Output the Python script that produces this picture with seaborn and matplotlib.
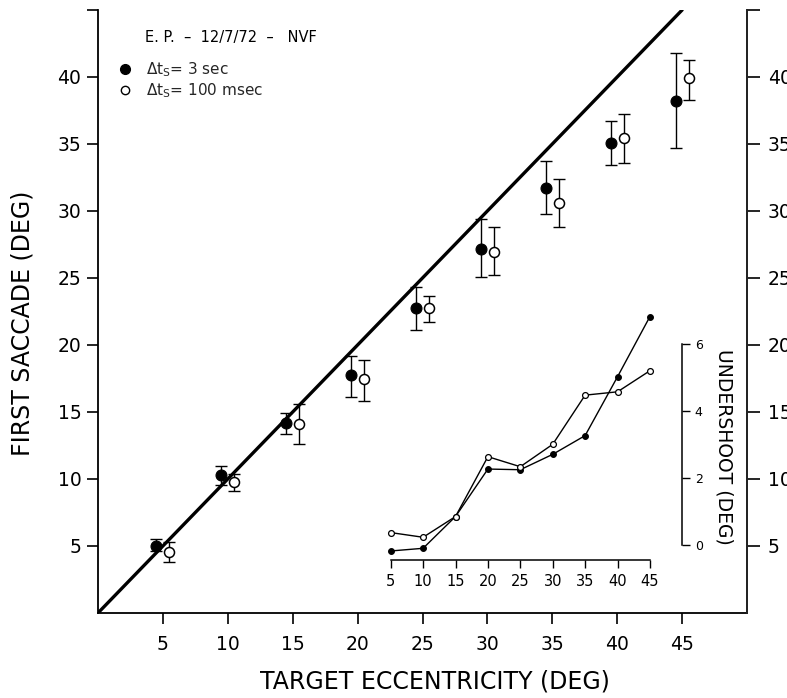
import numpy as np
import pandas as pd
import matplotlib
matplotlib.use("Agg")
import matplotlib.pyplot as plt
from matplotlib.lines import Line2D
import seaborn as sns

# ---------------- data ----------------
targets = [5, 10, 15, 20, 25, 30, 35, 40, 45]

sac_3s = [5.02, 10.3, 14.15, 17.76, 22.74, 27.2, 31.7, 35.1, 38.2]
sac_3s_lo = [4.6, 9.53, 13.34, 16.12, 21.1, 25.07, 29.75, 33.4, 34.7]
sac_3s_hi = [5.55, 10.97, 14.9, 19.18, 24.35, 29.4, 33.7, 36.7, 41.8]

sac_100 = [4.53, 9.75, 14.08, 17.44, 22.74, 26.96, 30.6, 35.45, 39.9]
sac_100_lo = [3.83, 9.13, 12.61, 15.82, 21.74, 25.2, 28.8, 33.58, 38.3]
sac_100_hi = [5.3, 10.37, 15.6, 18.88, 23.66, 28.8, 32.4, 37.26, 41.3]

under_3s = [-0.18, -0.1, 0.85, 2.27, 2.25, 2.71, 3.27, 5.03, 6.83]
under_100 = [0.37, 0.23, 0.85, 2.64, 2.34, 3.01, 4.48, 4.58, 5.21]

identity = [0, 45]

x_ticks = [5, 10, 15, 20, 25, 30, 35, 40, 45]
x_ticklabels = ["5", "10", "15", "20", "25", "30", "35", "40", "45"]
y_ticks = [5, 10, 15, 20, 25, 30, 35, 40, 45]
y_ticklabels = ["5", "10", "15", "20", "25", "30", "35", "40", ""]
inset_xticks = [5, 10, 15, 20, 25, 30, 35, 40, 45]
inset_yticks = [0, 2, 4, 6]

header = "E. P.  \u2013  12/7/72  \u2013   NVF"
label_3s = r"$\Delta$t$_\mathrm{S}$= 3 sec"
label_100 = r"$\Delta$t$_\mathrm{S}$= 100 msec"

# ---------------- style ----------------
sns.set_style("ticks")
plt.rcParams["font.family"] = ["DejaVu Sans"]
plt.rcParams["mathtext.fontset"] = "dejavusans"

fig = plt.figure(figsize=(7.87, 6.98), dpi=100)
ax = fig.add_axes([0.1245, 0.1218, 0.8247, 0.8639])

off = 0.5
x3 = np.array(targets) - off
x100 = np.array(targets) + off

# identity line
sns.lineplot(x=identity, y=identity, ax=ax, color="black", lw=2.4, zorder=2)

# error bars
s3 = np.array(sac_3s)
s100 = np.array(sac_100)
ax.errorbar(x3, s3, yerr=[s3 - np.array(sac_3s_lo), np.array(sac_3s_hi) - s3],
            fmt="none", ecolor="black", elinewidth=1.0, capsize=4.3, capthick=1.0, zorder=3)
ax.errorbar(x100, s100, yerr=[s100 - np.array(sac_100_lo), np.array(sac_100_hi) - s100],
            fmt="none", ecolor="black", elinewidth=1.0, capsize=4.3, capthick=1.0, zorder=3)

sns.scatterplot(x=x3, y=s3, ax=ax, s=62, color="black", edgecolor="black",
                linewidth=0.8, zorder=4, legend=False)
sns.scatterplot(x=x100, y=s100, ax=ax, s=52, facecolor="white", edgecolor="black",
                linewidth=1.1, zorder=4, legend=False)

ax.set_xlim(0, 50)
ax.set_ylim(0, 45)
ax.set_xticks(x_ticks)
ax.set_xticklabels(x_ticklabels)
ax.set_yticks(y_ticks)
ax.set_yticklabels(y_ticklabels)
ax.spines["top"].set_visible(False)
for s in ["left", "right", "bottom"]:
    ax.spines[s].set_linewidth(1.3)
    ax.spines[s].set_color("black")
ax.tick_params(axis="y", left=True, right=False, labelleft=True, labelright=False,
               direction="out", length=8, width=1.2, labelsize=13.5, pad=4,
               colors="black")
ax.tick_params(axis="x", direction="out", length=8, width=1.2, labelsize=13.5,
               pad=8, colors="black")

# right-hand copy of the ordinate
axr = ax.twinx()
axr.set_ylim(ax.get_ylim())
axr.set_yticks(y_ticks)
axr.set_yticklabels(y_ticklabels)
for s in ["top", "left", "bottom"]:
    axr.spines[s].set_visible(False)
axr.spines["right"].set_linewidth(1.3)
axr.tick_params(axis="y", direction="out", length=9, width=1.2, labelsize=13.5,
                pad=6, colors="black")

ax.set_xlabel("TARGET ECCENTRICITY (DEG)", fontsize=17, color="black")
ax.set_ylabel("FIRST SACCADE (DEG)", fontsize=17, color="black")
ax.xaxis.set_label_coords(0.519, -0.113)
ax.yaxis.set_label_coords(-0.1156, 0.481)
ax.xaxis.label.set_va("center")
ax.yaxis.label.set_va("center")

# header text and legend
ax.text(0.0724, 0.955, header, transform=ax.transAxes, fontsize=10.5,
        ha="left", va="center", color="black")
handles = [
    Line2D([], [], ls="none", marker="o", markersize=7, markerfacecolor="black",
           markeredgecolor="black"),
    Line2D([], [], ls="none", marker="o", markersize=6, markerfacecolor="white",
           markeredgecolor="black", markeredgewidth=1.0),
]
leg = ax.legend(handles, [label_3s, label_100], loc="upper left",
                bbox_to_anchor=(0.031, 0.917), frameon=False, fontsize=11,
                handlelength=0.9, handletextpad=0.95, borderpad=0,
                borderaxespad=0, labelspacing=0.15)

# ---------------- inset ----------------
ax2 = fig.add_axes([0.4882, 0.1977, 0.3788, 0.309])
ax2.patch.set_alpha(0)
sns.lineplot(x=targets, y=under_3s, ax=ax2, color="black", lw=1.0,
             marker="o", markersize=4.2, markerfacecolor="black",
             markeredgecolor="black", zorder=3, clip_on=False)
sns.lineplot(x=targets, y=under_100, ax=ax2, color="black", lw=1.0,
             marker="o", markersize=4.2, markerfacecolor="white",
             markeredgecolor="black", markeredgewidth=0.9, zorder=3, clip_on=False)
ax2.set_xlim(4, 50)
ax2.set_ylim(-0.45, 6)
ax2.spines["top"].set_visible(False)
ax2.spines["left"].set_visible(False)
ax2.spines["bottom"].set_bounds(5, 45)
ax2.spines["right"].set_bounds(0, 6)
for s in ["bottom", "right"]:
    ax2.spines[s].set_linewidth(1.1)
    ax2.spines[s].set_color("black")
ax2.set_xticks(inset_xticks)
ax2.set_xticklabels([str(v) for v in inset_xticks])
ax2.set_yticks(inset_yticks)
ax2.set_yticklabels([str(v) for v in inset_yticks])
ax2.yaxis.tick_right()
ax2.tick_params(axis="x", direction="out", length=6, width=1.0, labelsize=10.5,
                pad=4, colors="black")
ax2.tick_params(axis="y", direction="out", length=6, width=1.0, labelsize=9,
                pad=3, colors="black", left=False, right=True)
ax2.yaxis.set_label_position("right")
ax2.set_ylabel("UNDERSHOOT (DEG)", fontsize=13.5, rotation=-90, color="black")
ax2.yaxis.set_label_coords(1.14, 0.524)
ax2.yaxis.label.set_va("center")
ax2.yaxis.label.set_ha("center")
ax2.set_xlabel("")

fig.savefig("out.png", dpi=100)
